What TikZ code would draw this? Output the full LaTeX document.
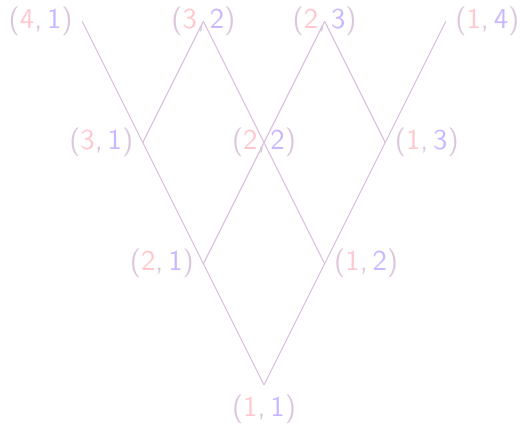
\documentclass[tikz,border=0pt]{standalone}
\usepackage{xcolor}
\usepackage{tikz}
\usetikzlibrary{positioning}
\definecolor{parc}{HTML}{DCC8DC}
\definecolor{firstc}{HTML}{FFC8CE}
\definecolor{secondc}{HTML}{C8B8FF}
\definecolor{edgec}{HTML}{D8BEDC}
\newcommand{\pairlab}[2]{\textcolor{parc}{(}\textcolor{firstc}{#1}\textcolor{parc}{,\thinspace}\textcolor{secondc}{#2}\textcolor{parc}{)}}

\begin{document}
\begin{tikzpicture}[
  font=\sffamily\fontsize{10.8}{13}\selectfont,
  lab/.style={inner sep=3.4pt},
  edge/.style={edgec,line width=0.4pt},
]
\useasboundingbox (-3.485,-0.515) rectangle (3.379,5.082);
% lattice points
\foreach \i/\j in {1/1,2/1,1/2,3/1,2/2,1/3,4/1,3/2,2/3,1/4}
  \coordinate (p\i\j) at ({0.8*(\j-\i)},{1.6*(\i+\j-2)});

% edges
\foreach \a/\b in {41/31,31/21,21/11,14/13,13/12,12/11,
                   31/32,32/22,22/12,23/22,22/21,23/13}
  \draw[edge] (p\a) -- (p\b);

% labels: outer ones beside the point, inner ones on it
\node[lab,left=0pt of p41]  (l41) {\pairlab{4}{1}};
\node[lab,left=0pt of p31]  (l31) {\pairlab{3}{1}};
\node[lab,left=0pt of p21]  (l21) {\pairlab{2}{1}};
\node[lab,below=0pt of p11] (l11) {\pairlab{1}{1}};
\node[lab,right=0pt of p12] (l12) {\pairlab{1}{2}};
\node[lab,right=0pt of p13] (l13) {\pairlab{1}{3}};
\node[lab,right=0pt of p14] (l14) {\pairlab{1}{4}};
\node[lab] at (p32) (l32) {\pairlab{3}{2}};
\node[lab] at (p22) (l22) {\pairlab{2}{2}};
\node[lab] at (p23) (l23) {\pairlab{2}{3}};
\end{tikzpicture}
\end{document}
